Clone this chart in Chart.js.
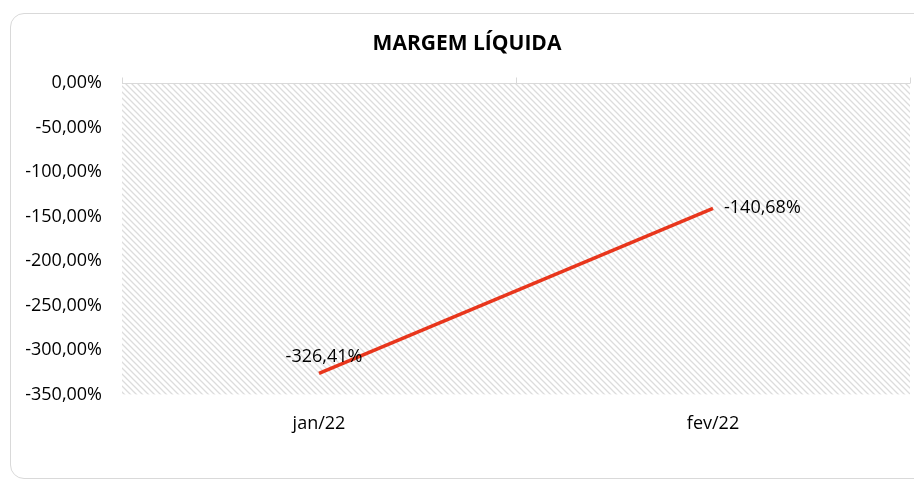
<!DOCTYPE html>
<html>
<head>
<meta charset="utf-8">
<script src="https://cdn.jsdelivr.net/npm/chart.js@4.4.1/dist/chart.umd.min.js"></script>
<style>
    html, body { margin: 0; padding: 0; background: #fff; }
    #wrap { position: relative; width: 914px; height: 481px; overflow: hidden; }
    #frame {
        position: absolute; left: 10px; top: 13px; width: 930px; height: 466px;
        border: 1px solid #d9d9d9; border-radius: 14px; box-sizing: border-box;
    }
    #chart { position: absolute; left: 0; top: 0; }
</style>
</head>
<body>
<div id="wrap">
    <div id="frame"></div>
    <canvas id="chart" width="914" height="481"></canvas>
</div>
<script>
// dados
const categories = ['jan/22', 'fev/22'];
const margemLiquida = [-326.41, -140.68];
const yTicks = [0, -50, -100, -150, -200, -250, -300, -350];
const labelPos = ['top', 'right'];

const FONT = "'Open Sans', sans-serif";

function formatPct(v) {
    return v.toFixed(2).replace('.', ',') + '%';
}

// fundo hachurado + linha do eixo no zero
const hatchPlugin = {
    id: 'hatch',
    beforeDatasetsDraw(chart) {
        const { ctx, chartArea: a, scales } = chart;
        const tile = document.createElement('canvas');
        tile.width = 6; tile.height = 6;
        const t = tile.getContext('2d');
        t.strokeStyle = '#dcdcdc';
        t.lineWidth = 1.3;
        t.beginPath();
        t.moveTo(-1, -1); t.lineTo(7, 7);
        t.moveTo(-7, -1); t.lineTo(1, 7);
        t.moveTo(5, -1); t.lineTo(13, 7);
        t.stroke();
        ctx.save();
        ctx.fillStyle = ctx.createPattern(tile, 'repeat');
        ctx.fillRect(a.left, a.top, a.right - a.left, a.bottom - a.top);

        // eixo horizontal (cruza em 0)
        const y0 = Math.round(scales.y.getPixelForValue(0)) + 0.5;
        ctx.strokeStyle = '#d9d9d9';
        ctx.lineWidth = 1;
        ctx.beginPath();
        ctx.moveTo(a.left, y0); ctx.lineTo(a.right, y0);
        const step = (a.right - a.left) / categories.length;
        for (let i = 0; i <= categories.length; i++) {
            const x = Math.round(a.left + i * step) + 0.5;
            ctx.moveTo(x, y0); ctx.lineTo(x, y0 - 6);
        }
        ctx.stroke();
        ctx.restore();
    },
    afterDatasetsDraw(chart) {
        const { ctx } = chart;
        const meta = chart.getDatasetMeta(0);
        ctx.save();
        ctx.font = '18px ' + FONT;
        ctx.fillStyle = '#000';
        ctx.textBaseline = 'middle';
        meta.data.forEach((pt, i) => {
            const txt = formatPct(margemLiquida[i]);
            if (labelPos[i] === 'top') {
                ctx.textAlign = 'center';
                ctx.fillText(txt, pt.x + 5, pt.y - 17);
            } else {
                ctx.textAlign = 'left';
                ctx.fillText(txt, pt.x + 11, pt.y);
            }
        });
        ctx.restore();
    }
};

new Chart(document.getElementById('chart'), {
    type: 'line',
    data: {
        labels: categories,
        datasets: [{
            label: 'Margem Líquida',
            data: margemLiquida,
            borderColor: '#e8361c',
            borderWidth: 3.5,
            pointRadius: 0,
            tension: 0
        }]
    },
    options: {
        responsive: false,
        animation: false,
        layout: { padding: { left: 24, right: 4, top: 0, bottom: 27 } },
        plugins: {
            legend: { display: false },
            tooltip: { enabled: false },
            title: {
                display: true,
                text: 'MARGEM LÍQUIDA',
                color: '#000',
                font: { family: FONT, size: 21, weight: 'bold' },
                padding: { top: 31, bottom: 27 }
            }
        },
        scales: {
            x: {
                offset: true,
                grid: { display: false, drawTicks: false },
                border: { display: false },
                ticks: { color: '#000', font: { family: FONT, size: 18 }, padding: 19 }
            },
            y: {
                min: -350,
                max: 0,
                afterFit(scale) { scale.width = 98; },
                afterBuildTicks(scale) { scale.ticks = yTicks.map(v => ({ value: v })); },
                grid: { display: false, drawTicks: false },
                border: { display: false },
                ticks: {
                    color: '#000',
                    font: { family: FONT, size: 18 },
                    padding: 20,
                    callback: v => formatPct(v)
                }
            }
        }
    },
    plugins: [hatchPlugin]
});
</script>
</body>
</html>
